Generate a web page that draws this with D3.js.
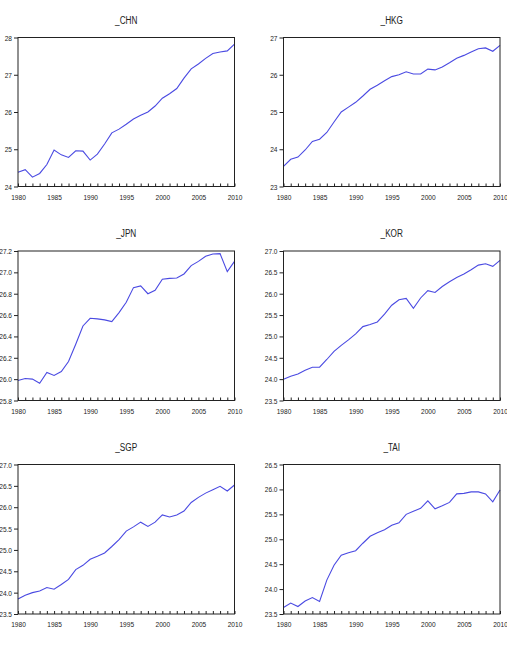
<!DOCTYPE html>
<html><head><meta charset="utf-8">
<script src="https://cdn.jsdelivr.net/npm/d3@7"></script>
<style>
html,body{margin:0;padding:0;background:#fff;}
svg text{font-family:"Liberation Sans",Arial,sans-serif;fill:#222;}
</style></head><body>
<svg id="c" width="507" height="656"></svg>
<script>
const years = d3.range(1980, 2011);
const xTickLabels = [1980, 1985, 1990, 1995, 2000, 2005, 2010];

const titles = ["_CHN", "_HKG", "_JPN", "_KOR", "_SGP", "_TAI"];

const chn = [24.38,24.45,24.25,24.35,24.59,24.98,24.85,24.78,24.96,24.95,24.71,24.87,25.14,25.44,25.54,25.67,25.81,25.91,26.00,26.16,26.37,26.49,26.63,26.91,27.16,27.29,27.44,27.57,27.61,27.64,27.82];
const hkg = [23.54,23.73,23.79,23.98,24.21,24.27,24.45,24.73,25.00,25.13,25.26,25.43,25.61,25.72,25.84,25.95,26.00,26.08,26.02,26.02,26.15,26.13,26.21,26.32,26.44,26.52,26.61,26.70,26.72,26.63,26.79];
const jpn = [25.987,26.006,26.000,25.962,26.062,26.034,26.071,26.165,26.327,26.498,26.570,26.564,26.555,26.539,26.623,26.720,26.857,26.873,26.800,26.832,26.935,26.944,26.947,26.985,27.063,27.103,27.150,27.172,27.175,27.007,27.103];
const kor = [24.00,24.07,24.12,24.21,24.28,24.28,24.46,24.65,24.79,24.92,25.06,25.23,25.28,25.34,25.52,25.73,25.86,25.89,25.66,25.90,26.07,26.03,26.17,26.28,26.38,26.46,26.56,26.67,26.70,26.64,26.78];
const sgp = [23.85,23.94,24.00,24.04,24.12,24.08,24.19,24.31,24.54,24.64,24.78,24.85,24.93,25.08,25.24,25.44,25.54,25.65,25.55,25.65,25.82,25.77,25.82,25.91,26.11,26.23,26.33,26.41,26.49,26.38,26.52];
const tai = [23.63,23.72,23.65,23.76,23.83,23.75,24.18,24.48,24.68,24.73,24.77,24.92,25.06,25.13,25.19,25.28,25.33,25.50,25.56,25.62,25.77,25.61,25.67,25.74,25.91,25.92,25.95,25.95,25.91,25.75,25.99];

const chnTicks = [24, 25, 26, 27, 28];
const hkgTicks = [23, 24, 25, 26, 27];
const jpnTicks = [25.8, 26.0, 26.2, 26.4, 26.6, 26.8, 27.0, 27.2];
const korTicks = [23.5, 24.0, 24.5, 25.0, 25.5, 26.0, 26.5, 27.0];
const sgpTicks = [23.5, 24.0, 24.5, 25.0, 25.5, 26.0, 26.5, 27.0];
const taiTicks = [23.5, 24.0, 24.5, 25.0, 25.5, 26.0, 26.5];

const series = [chn, hkg, jpn, kor, sgp, tai];
const yTicks = [chnTicks, hkgTicks, jpnTicks, korTicks, sgpTicks, taiTicks];
const yFormats = [d3.format("d"), d3.format("d"), d3.format(".1f"), d3.format(".1f"), d3.format(".1f"), d3.format(".1f")];

const colX = [[18, 234.5], [283.5, 500]];
const rowY = [[37.5, 186.5], [251, 400.5], [464.5, 614]];

const svg = d3.select("#c");

series.forEach((vals, i) => {
  const col = i % 2, row = Math.floor(i / 2);
  const [x0, x1] = colX[col];
  const [y0, y1] = rowY[row];
  const tk = yTicks[i];
  const x = d3.scaleLinear().domain([1980, 2010]).range([x0, x1]);
  const y = d3.scaleLinear().domain([tk[0], tk[tk.length - 1]]).range([y1, y0]);
  const g = svg.append("g");

  g.append("text").attr("class", "t").attr("x", (x0 + x1) / 2).attr("y", y0 - 14)
    .attr("text-anchor", "middle").attr("font-size", 10).text(titles[i]);

  const line = d3.line().x((d, j) => x(years[j])).y(d => y(d));
  g.append("path").datum(vals).attr("d", line)
    .attr("fill", "none").attr("stroke", "#4a4ae2").attr("stroke-width", 1.1);

  const ya = d3.axisLeft(y).tickValues(tk).tickFormat(yFormats[i]).tickSize(4).tickPadding(2);
  const yg = g.append("g").attr("transform", `translate(${x0},0)`).call(ya);
  yg.select(".domain").remove();
  yg.selectAll("line").attr("stroke", "#222");
  yg.selectAll("text").attr("class", "t").attr("font-size", 8).style("font-family", null).attr("fill", "#222");

  const xa = d3.axisTop(x).tickValues(years).tickFormat("").tickSize(-3);
  const xg = g.append("g").attr("transform", `translate(0,${y1})`).call(xa);
  xg.select(".domain").remove();
  xg.selectAll("line").attr("stroke", "#222").attr("y2", -3);

  const xl = d3.axisBottom(x).tickValues(xTickLabels).tickFormat(d3.format("d")).tickSize(0).tickPadding(7.5);
  const xlg = g.append("g").attr("transform", `translate(0,${y1})`).call(xl);
  xlg.select(".domain").remove();
  xlg.selectAll("text").attr("class", "t").attr("font-size", 8).style("font-family", null).attr("fill", "#222");

  g.append("rect").attr("x", x0).attr("y", y0).attr("width", x1 - x0).attr("height", y1 - y0)
    .attr("fill", "none").attr("stroke", "#222").attr("stroke-width", 1);
});

// narrow the glyphs, as in the reference's condensed face
svg.selectAll("text.t").each(function () {
  const w = this.getComputedTextLength();
  this.setAttribute("textLength", (w * 0.82).toFixed(2));
  this.setAttribute("lengthAdjust", "spacingAndGlyphs");
});
</script>
</body></html>
